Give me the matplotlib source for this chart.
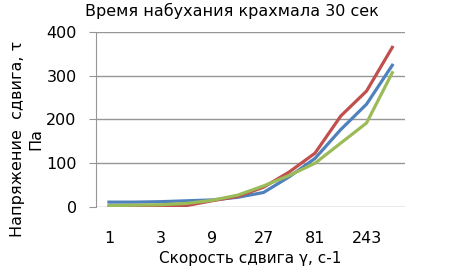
import matplotlib.pyplot as plt
import numpy as np

plt.rcParams['font.family'] = ['DejaVu Sans']

# shear rate categories (only every other one is labelled on the chart)
rates = ["1", "1.5", "3", "4.5", "9", "13.5", "27", "40.5", "81", "121.5", "243", "364.5"]
shown = ["1", "3", "9", "27", "81", "243"]

blue = [11, 11, 12, 14, 16, 22, 33, 69, 111, 177, 235, 324]
red = [0, 0, 1, 3, 14, 24, 45, 80, 123, 208, 265, 365]
green = [3, 4, 5, 8, 15, 27, 48, 72, 100, 146, 192, 307]


def main():
    fig = plt.figure(figsize=(4.62, 2.67), dpi=100)
    ax = fig.add_axes([0.208, 0.225, 0.669, 0.655])

    x = np.arange(len(rates))
    ax.plot(x, blue, "-", color="#4F81BD", lw=2.3)
    ax.plot(x, red, "-", color="#C0504D", lw=2.3)
    ax.plot(x, green, "-", color="#9BBB59", lw=2.3)

    ax.set_xlim(-0.5, len(rates) - 0.5)
    ax.set_ylim(0, 400)
    ax.set_yticks([0, 100, 200, 300, 400])
    ax.yaxis.grid(True, color="#969696", lw=1)
    ax.set_axisbelow(True)

    ax.set_xticks([i for i, r in enumerate(rates) if r in shown])
    ax.set_xticklabels(shown)

    for s in ["top", "right", "bottom"]:
        ax.spines[s].set_visible(False)
    ax.spines["left"].set_color("#969696")
    ax.tick_params(axis="y", length=5, color="#969696", labelsize=11.5, pad=9)
    ax.tick_params(axis="x", length=0, labelsize=11.5, pad=17)

    fig.text(232 / 462, 1 - 11 / 267, "Время набухания крахмала 30 сек",
             ha="center", va="center", fontsize=11.5)
    fig.text(250 / 462, 1 - 259 / 267, "Скорость сдвига γ, с-1",
             ha="center", va="center", fontsize=11)
    fig.text(27 / 462, 1 - 139 / 267, "Напряжение  сдвига, τ\nПа", rotation=90,
             ha="center", va="center", multialignment="center", fontsize=11.5,
             linespacing=1.3)

    fig.savefig("out.png", dpi=100)
    plt.close(fig)


if __name__ == "__main__":
    main()
